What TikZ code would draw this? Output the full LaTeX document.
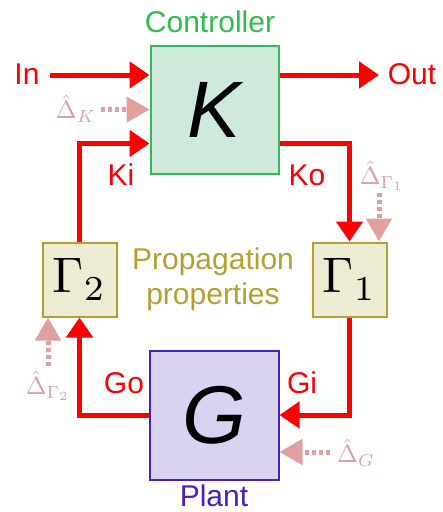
\documentclass[tikz,border=0pt]{standalone}
\usepackage{graphicx}
\usepackage{fontspec}
\setmainfont{Liberation Sans}
\usetikzlibrary{arrows.meta,calc}
\definecolor{sigred}{HTML}{FF0000}
\definecolor{pinkd}{HTML}{E0A0A0}
\definecolor{kfill}{HTML}{CFEADA}
\definecolor{kdraw}{HTML}{2DBE4B}
\definecolor{gamfill}{HTML}{EEEBD3}
\definecolor{gamdraw}{HTML}{B4A032}
\definecolor{gfill}{HTML}{D9D2F0}
\definecolor{gdraw}{HTML}{4A1FBF}
\tikzset{
  blk/.style={draw, line width=2pt, minimum size=#1, inner sep=0pt},
  sig/.style={draw=sigred, line width=5pt, -{Triangle[length=20pt,width=26pt]}},
  unc/.style={draw=pinkd, line width=5pt, dash pattern=on 4pt off 3pt, -{Triangle[length=23pt,width=25pt]}},
  lab/.style={text=sigred, font=\fontsize{30}{34}\selectfont},
  dlab/.style={text=pinkd, font=\fontsize{10}{12}\selectfont},
}
\begin{document}
\begin{tikzpicture}[x=1pt,y=-1pt]
\useasboundingbox (0,0) rectangle (443,512);
% blocks
\node[blk=128pt, fill=kfill, draw=kdraw] (K) at (214.5,109.5) {\fontsize{80}{80}\selectfont\itshape K};
\node[blk=129pt, fill=gfill, draw=gdraw] (G) at (214,415) {\fontsize{82}{82}\selectfont\itshape G};
\node[blk=74pt, fill=gamfill, draw=gamdraw] (g2) at (79.5,279.5) {\scalebox{5}{$\Gamma_2$}};
\node[blk=74pt, fill=gamfill, draw=gamdraw] (g1) at (349.5,279.5) {\scalebox{5}{$\Gamma_1$}};
% titles
\node[text=kdraw, font=\fontsize{30}{34}\selectfont] (ctl) at (210,22) {Controller};
\node[text=gdraw, font=\fontsize{30}{34}\selectfont] (plant) at (214,496) {Plant};
\node[text=gamdraw, font=\fontsize{30}{35}\selectfont, align=center] (prop) at (213,279) {Propagation\\properties};
% input / output
\node[lab] (inl) at (27,74) {In};
\node[lab] (outl) at (412,74) {Out};
\coordinate (inp) at (50,75);
\coordinate (outp) at (379,75);
\draw[sig] (inp) -- (inp -| K.west);
\draw[sig] (outp -| K.east) -- (outp);
% loop
\draw[sig] (g2.north) |- ([yshift=-34pt]K.west);
\draw[sig] ([yshift=-34pt]K.east) -| (g1.north);
\draw[sig] (g1.south) |- (G.east);
\draw[sig] (G.west) -| (g2.south);
% signal labels
\node[lab] (ki) at (121,175) {Ki};
\node[lab] (ko) at (307,175) {Ko};
\node[lab] (go) at (124,383) {Go};
\node[lab] (gi) at (302,383) {Gi};
% uncertainties
\coordinate (dk) at (101,109.5);
\draw[unc] (dk) -- (K.west);
\node[dlab] (dkl) at (76,109) {\scalebox{2.5}{$\hat\Delta_K$}};
\coordinate (dg1) at (379,193);
\draw[unc] (dg1) -- ([xshift=29.5pt]g1.north);
\node[dlab] (dg1l) at (382,176) {\scalebox{2.5}{$\hat\Delta_{\Gamma_1}$}};
\coordinate (dg2) at (48,366);
\draw[unc] (dg2) -- ([xshift=-31.5pt]g2.south);
\node[dlab] (dg2l) at (48,386) {\scalebox{2.5}{$\hat\Delta_{\Gamma_2}$}};
\coordinate (dgg) at (330,452);
\draw[unc] (dgg) -- ([yshift=-37pt]G.east);
\node[dlab] (dggl) at (356,453) {\scalebox{2.5}{$\hat\Delta_G$}};
\end{tikzpicture}
\end{document}
